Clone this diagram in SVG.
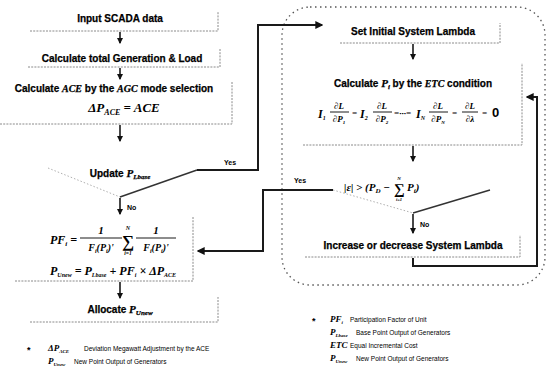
<svg xmlns="http://www.w3.org/2000/svg" width="549" height="378" viewBox="0 0 549 378">
<defs>
<marker id="ah" viewBox="0 0 6 6" refX="5" refY="3" markerWidth="4" markerHeight="4" orient="auto"><path d="M0,0 L6,3 L0,6 z" fill="#111"/></marker>
<style>
.lbl{font-family:"Liberation Sans",Arial,sans-serif;font-weight:bold;font-size:10px;fill:#000;text-anchor:middle;stroke:#000;stroke-width:0.25}
.m{font-family:"Liberation Serif","Times New Roman",serif;font-style:italic;font-weight:bold;fill:#000}
.frame{fill:none;stroke:#8a8a8a;stroke-width:1;stroke-dasharray:2 1.2}
.conn{fill:none;stroke:#1a1a1a;stroke-width:2}
.arr{fill:none;stroke:#1a1a1a;stroke-width:1.6;marker-end:url(#ah)}
.dot{fill:none;stroke:#b0b0b0;stroke-width:1;stroke-dasharray:1.5 2}
.bar{stroke:#000;stroke-width:0.9}
.yn{font-family:"Liberation Sans",Arial,sans-serif;font-weight:bold;font-size:7px;fill:#000}
.leg{font-family:"Liberation Sans",Arial,sans-serif;font-size:6.5px;fill:#000}
.ref{font-family:"Liberation Sans",Arial,sans-serif;font-weight:bold;font-size:9px;fill:#000}
</style>
</defs>
<rect width="549" height="378" fill="#fff"/>

<!-- big dotted region -->
<rect id="ed-region" x="282" y="7" width="263" height="278" rx="28" fill="none" stroke="#555" stroke-width="1.3" stroke-dasharray="1.5 3.5"/>

<g id="input">
<path class="frame" d="M30,31 H218 V12"/>
<text class="lbl" x="120" y="22">Input SCADA data</text>
</g>

<g id="calc-load">
<path class="frame" d="M28,67 H220 V48"/>
<text class="lbl" x="122" y="62">Calculate total Generation &amp; Load</text>
</g>

<g id="calc-ace">
<path class="frame" d="M0,124 H232 V82"/>
<text class="lbl" x="114" y="92">Calculate <tspan class="m">ACE</tspan> by the <tspan class="m">AGC</tspan> mode selection</text>
<text class="m" x="124" y="112" font-size="13" text-anchor="middle">ΔP<tspan font-size="8" dy="3">ACE</tspan><tspan dy="-3"> = ACE</tspan></text>
</g>

<g id="update">
<path class="dot" d="M48,168 L120,197"/>
<path fill="none" stroke="#333" stroke-width="1.5" d="M120,197 L197,170"/>
<text class="lbl" x="120" y="177">Update <tspan class="m" font-size="11">P</tspan><tspan class="m" font-size="7" dy="2">Lbase</tspan></text>
</g>

<g id="pf">
<path class="frame" d="M15,281 H193 V217"/>
<text class="m" x="50" y="244" font-size="12">PF<tspan font-size="7" dy="2">i</tspan><tspan dy="-2"> =</tspan></text>
<text class="m" x="101" y="234" font-size="11" text-anchor="middle">1</text>
<line class="bar" x1="80" y1="238" x2="122" y2="238"/>
<text class="m" x="101" y="251" font-size="10" text-anchor="middle">F<tspan font-size="6" dy="2">i</tspan><tspan dy="-2">(P</tspan><tspan font-size="6" dy="2">i</tspan><tspan dy="-2">)'</tspan></text>
<text class="m" x="128" y="230" font-size="6" text-anchor="middle">N</text>
<text class="m" x="128" y="247" font-size="17" text-anchor="middle" font-style="normal">∑</text>
<text class="m" x="128" y="255" font-size="5.5" text-anchor="middle">i=1</text>
<text class="m" x="156" y="234" font-size="11" text-anchor="middle">1</text>
<line class="bar" x1="136" y1="238" x2="176" y2="238"/>
<text class="m" x="156" y="251" font-size="10" text-anchor="middle">F<tspan font-size="6" dy="2">i</tspan><tspan dy="-2">(P</tspan><tspan font-size="6" dy="2">i</tspan><tspan dy="-2">)'</tspan></text>
<text class="m" x="50" y="275" font-size="12">P<tspan font-size="6" dy="2">Unew</tspan><tspan dy="-2"> = P</tspan><tspan font-size="6" dy="2">Lbase</tspan><tspan dy="-2"> + PF</tspan><tspan font-size="6" dy="2">i</tspan><tspan dy="-2"> × ΔP</tspan><tspan font-size="6" dy="2">ACE</tspan></text>
</g>

<g id="allocate">
<path class="frame" d="M30,322 H218 V297"/>
<text class="lbl" x="120" y="313">Allocate <tspan class="m" font-size="11">P</tspan><tspan class="m" font-size="7" dy="2">Unew</tspan></text>
</g>

<g id="set-lambda">
<path class="frame" d="M340,43 H500 V23"/>
<text class="lbl" x="413" y="35">Set Initial System Lambda</text>
</g>

<g id="calc-pi">
<path class="frame" d="M303,145 H522 V63"/>
<text class="lbl" x="413" y="87">Calculate <tspan class="m" font-size="11">P</tspan><tspan class="m" font-size="7" dy="2">i</tspan><tspan dy="-2"> by the </tspan><tspan class="m">ETC</tspan> condition</text>
<text class="m" x="318" y="118" font-size="12">I<tspan font-size="6" dy="2">1</tspan></text>
<text class="m" x="339" y="109" font-size="9" text-anchor="middle">∂L</text>
<line class="bar" x1="330" y1="112" x2="349" y2="112"/>
<text class="m" x="339" y="122" font-size="9" text-anchor="middle">∂P<tspan font-size="5" dy="2">1</tspan></text>
<text class="m" x="352" y="116" font-size="9">=</text>
<text class="m" x="360" y="118" font-size="12">I<tspan font-size="6" dy="2">2</tspan></text>
<text class="m" x="382" y="109" font-size="9" text-anchor="middle">∂L</text>
<line class="bar" x1="373" y1="112" x2="392" y2="112"/>
<text class="m" x="382" y="122" font-size="9" text-anchor="middle">∂P<tspan font-size="5" dy="2">2</tspan></text>
<text class="m" x="394" y="116" font-size="9">=···=</text>
<text class="m" x="416" y="118" font-size="12">I<tspan font-size="6" dy="2">N</tspan></text>
<text class="m" x="438" y="109" font-size="9" text-anchor="middle">∂L</text>
<line class="bar" x1="429" y1="112" x2="448" y2="112"/>
<text class="m" x="438" y="122" font-size="9" text-anchor="middle">∂P<tspan font-size="5" dy="2">N</tspan></text>
<text class="m" x="452" y="116" font-size="9">=</text>
<text class="m" x="470" y="109" font-size="9" text-anchor="middle">∂L</text>
<line class="bar" x1="462" y1="112" x2="478" y2="112"/>
<text class="m" x="470" y="122" font-size="9" text-anchor="middle">∂λ</text>
<text class="m" x="482" y="116" font-size="9">=</text>
<text x="492" y="117" font-family="Liberation Sans,Arial,sans-serif" font-weight="bold" font-size="13">0</text>
</g>

<g id="check">
<path class="dot" d="M333,190 L413,213"/>
<path fill="none" stroke="#333" stroke-width="1.5" d="M413,213 L490,190"/>
<text class="m" x="344" y="191" font-size="11" font-weight="normal">|ε| &gt; (P<tspan font-size="7" dy="2">D</tspan><tspan dy="-2"> −</tspan></text>
<text class="m" x="399" y="194" font-size="15" font-style="normal" font-weight="normal" text-anchor="middle">∑</text>
<text class="m" x="399" y="180" font-size="5" font-weight="normal" text-anchor="middle">N</text>
<text class="m" x="399" y="201" font-size="4.5" font-weight="normal" text-anchor="middle">i=1</text>
<text class="m" x="407" y="191" font-size="11" font-weight="normal">P<tspan font-size="7" dy="2">i</tspan><tspan dy="-2">)</tspan></text>
</g>

<g id="increase">
<path class="frame" d="M305,257 H520 V235"/>
<text class="lbl" x="413" y="249">Increase or decrease System Lambda</text>
</g>

<g id="connectors">
<line class="arr" x1="120" y1="32" x2="120" y2="43"/>
<line class="arr" x1="120" y1="68" x2="120" y2="79"/>
<line class="arr" x1="120" y1="125" x2="120" y2="141"/>
<line class="arr" x1="120" y1="198" x2="120" y2="214"/>
<line class="arr" x1="120" y1="282" x2="120" y2="298"/>
<polyline class="conn" points="197,170 258,170 258,25 322,25" marker-end="url(#ah)"/>
<line class="arr" x1="413" y1="44" x2="413" y2="59"/>
<line class="arr" x1="413" y1="146" x2="413" y2="161"/>
<line class="arr" x1="413" y1="214" x2="413" y2="233"/>
<polyline class="conn" points="333,190 263,190 263,251 198,251" marker-end="url(#ah)"/>
<polyline class="conn" points="413,258 413,266 537,266 537,97 527,97" marker-end="url(#ah)"/>
<text class="yn" x="224" y="165">Yes</text>
<text class="yn" x="127" y="210">No</text>
<text class="yn" x="294" y="183">Yes</text>
<text class="yn" x="420" y="227">No</text>
</g>

<g id="legend-left">
<text class="ref" x="27" y="353">*</text>
<text class="m" x="48" y="351" font-size="9">ΔP<tspan font-size="5" dy="2">ACE</tspan></text>
<text class="leg" x="84" y="351">Deviation Megawatt Adjustment by the ACE</text>
<text class="m" x="48" y="364" font-size="9">P<tspan font-size="5" dy="2">Unew</tspan></text>
<text class="leg" x="74" y="364">New Point Output of Generators</text>
</g>

<g id="legend-right">
<text class="ref" x="312" y="324">*</text>
<text class="m" x="330" y="322" font-size="9">PF<tspan font-size="5" dy="2">i</tspan></text>
<text class="leg" x="350" y="322">Participation Factor of Unit</text>
<text class="m" x="330" y="335" font-size="9">P<tspan font-size="5" dy="2">Lbase</tspan></text>
<text class="leg" x="356" y="335">Base Point Output of Generators</text>
<text class="m" x="330" y="348" font-size="9">ETC</text>
<text class="leg" x="350" y="348">Equal Incremental Cost</text>
<text class="m" x="330" y="361" font-size="9">P<tspan font-size="5" dy="2">Unew</tspan></text>
<text class="leg" x="356" y="361">New Point Output of Generators</text>
</g>
</svg>
